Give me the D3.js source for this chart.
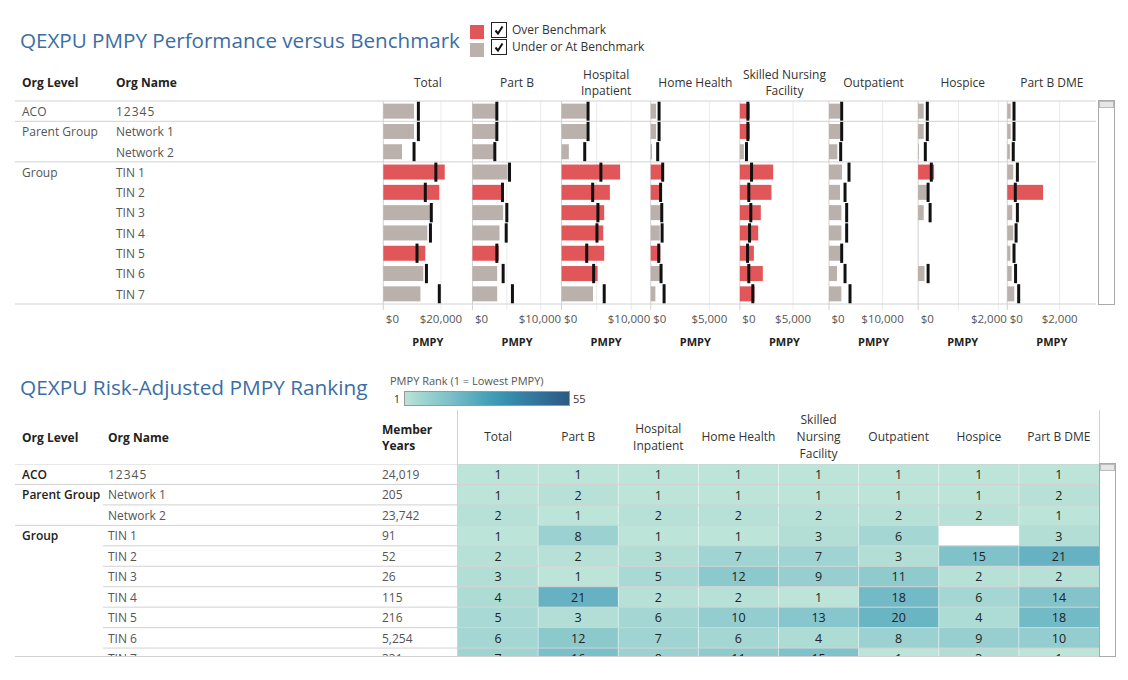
<!DOCTYPE html>
<html>
<head>
<meta charset="UTF-8">
<title>QEXPU PMPY</title>
<script src="https://d3js.org/d3.v7.min.js"></script>
<style>
	body { margin: 0; background: #fff; }
	svg text { font-family: "Open Sans", sans-serif; }
</style>
</head>
<body>
<div id="chart"></div>
<script>
	// ---- data ----
	const orgLevels = ["ACO", "Parent Group", "", "Group", "", "", "", "", "", ""];
	const orgNames = ["12345", "Network 1", "Network 2", "TIN 1", "TIN 2", "TIN 3", "TIN 4", "TIN 5", "TIN 6", "TIN 7"];
	const memberYears = ["24,019", "205", "23,742", "91", "52", "26", "115", "216", "5,254", "331"];
	const categories = ["Total", "Part B", "Hospital Inpatient", "Home Health", "Skilled Nursing Facility", "Outpatient", "Hospice", "Part B DME"];

	// PMPY and benchmark, one array per category (dollars)
	const pmpyTotal = [10760, 10760, 6550, 21500, 19600, 16400, 15400, 14700, 14000, 13000];
	const benchTotal = [12280, 12280, 10760, 18400, 14700, 16800, 16500, 11800, 15100, 19600];
	const pmpyPartB = [3500, 3500, 3150, 5200, 4580, 4530, 3990, 3890, 3650, 3650];
	const benchPartB = [3600, 3600, 3300, 5470, 4430, 5070, 4980, 3600, 4530, 5900];
	const pmpyInpatient = [3640, 3640, 1050, 8470, 6990, 6170, 6030, 6170, 5220, 4550];
	const benchInpatient = [3830, 3830, 3350, 5690, 4500, 5260, 5120, 3640, 4640, 6170];
	const pmpyHomeHealth = [460, 460, 110, 1100, 900, 920, 780, 830, 830, 400];
	const benchHomeHealth = [720, 720, 600, 1030, 850, 950, 980, 690, 890, 1150];
	const pmpySnf = [950, 950, 380, 3160, 3000, 1990, 1740, 1330, 2180, 1390];
	const benchSnf = [760, 760, 630, 1110, 850, 1040, 920, 730, 850, 1230];
	const pmpyOutpatient = [2080, 2200, 1570, 2450, 2080, 2330, 2330, 2140, 1510, 2330];
	const benchOutpatient = [2390, 2390, 2200, 3770, 3020, 3330, 3330, 2390, 3020, 3960];
	const pmpyHospice = [140, 140, 20, 400, 220, 140, null, null, 160, null];
	const benchHospice = [230, 230, 180, 330, 250, 300, null, null, 250, null];
	const pmpyDme = [130, 130, 100, 230, 1380, 190, 230, 120, 170, 270];
	const benchDme = [260, 260, 230, 390, 310, 390, 340, 260, 320, 440];

	// axis tick values per category
	const gridTicks = [[20000], [5000, 10000], [5000, 10000], [5000], [5000], [10000], [1000, 2000], [2000]];
	const labelTicks = [[0, 20000], [0, 10000], [0, 10000], [0, 5000], [0, 5000], [0, 10000], [0, 2000], [0, 2000]];
	const axisMax = [31200, 13150, 12900, 7670, 8460, 16800, 2236, 3440];

	// risk-adjusted ranks, one array per category
	const rankTotal = [1, 1, 2, 1, 2, 3, 4, 5, 6, 7];
	const rankPartB = [1, 2, 1, 8, 2, 1, 21, 3, 12, 16];
	const rankInpatient = [1, 1, 2, 1, 3, 5, 2, 6, 7, 8];
	const rankHomeHealth = [1, 1, 2, 1, 7, 12, 2, 10, 6, 11];
	const rankSnf = [1, 1, 2, 3, 7, 9, 1, 13, 4, 15];
	const rankOutpatient = [1, 1, 2, 6, 3, 11, 18, 20, 8, 1];
	const rankHospice = [1, 1, 2, null, 15, 2, 6, 4, 9, 3];
	const rankDme = [1, 2, 1, 3, 21, 2, 14, 18, 10, 1];
	const rankRange = [1, 55];

	const pmpy = [pmpyTotal, pmpyPartB, pmpyInpatient, pmpyHomeHealth, pmpySnf, pmpyOutpatient, pmpyHospice, pmpyDme];
	const bench = [benchTotal, benchPartB, benchInpatient, benchHomeHealth, benchSnf, benchOutpatient, benchHospice, benchDme];
	const ranks = [rankTotal, rankPartB, rankInpatient, rankHomeHealth, rankSnf, rankOutpatient, rankHospice, rankDme];

	const headerLinesTop = [["Total"], ["Part B"], ["Hospital", "Inpatient"], ["Home Health"], ["Skilled Nursing", "Facility"], ["Outpatient"], ["Hospice"], ["Part B DME"]];
	const headerLinesBottom = [["Total"], ["Part B"], ["Hospital", "Inpatient"], ["Home Health"], ["Skilled", "Nursing", "Facility"], ["Outpatient"], ["Hospice"], ["Part B DME"]];

	const blueTeal = ["#bce4d8", "#aedcd5", "#a1d5d2", "#95cecf", "#89c8cc", "#7ec1ca", "#72bac6", "#66b2c2", "#59acbe", "#4ba5ba",
		"#419eb6", "#3b96b2", "#358ead", "#3586a7", "#347ea1", "#32779b", "#316f96", "#2f6790", "#2d608a", "#2c5985"];

	const red = "#e15759", gray = "#bab0ac";
	const titleColor = "#3a6ea5";
	const lineColor = "#d2d2d2";

	let width = 1128;
	let height = 680;
	let svg = d3.select("#chart").append("svg")
		.attr("width", width)
		.attr("height", height);

	// ================= top: PMPY vs benchmark =================
	let topG = svg.append("g");

	topG.append("text")
		.attr("x", 20).attr("y", 48)
		.attr("font-size", 20.6).attr("fill", titleColor)
		.text("QEXPU PMPY Performance versus Benchmark");

	// legend
	let legendItems = [{ label: "Over Benchmark", color: red }, { label: "Under or At Benchmark", color: gray }];
	let lg = topG.append("g");
	lg.selectAll("rect.sw").data(legendItems).join("rect")
		.attr("class", "sw")
		.attr("x", 470).attr("y", (d, i) => 25 + i * 18)
		.attr("width", 14).attr("height", 14)
		.attr("fill", d => d.color);
	lg.selectAll("rect.box").data(legendItems).join("rect")
		.attr("class", "box")
		.attr("x", 491.5).attr("y", (d, i) => 22.5 + i * 17)
		.attr("width", 15).attr("height", 15)
		.attr("fill", "#fff").attr("stroke", "#222");
	lg.selectAll("path.chk").data(legendItems).join("path")
		.attr("class", "chk")
		.attr("d", (d, i) => {
			let bx = 491.5, by = 22.5 + i * 17;
			return `M${bx + 4},${by + 8} L${bx + 6.5},${by + 11} L${bx + 11},${by + 4}`;
		})
		.attr("fill", "none").attr("stroke", "#111").attr("stroke-width", 2);
	lg.selectAll("text").data(legendItems).join("text")
		.attr("x", 512).attr("y", (d, i) => 30 + i * 17)
		.attr("dy", "0.35em")
		.attr("font-size", 12).attr("fill", "#333")
		.text(d => d.label);

	// headers
	topG.append("text").attr("x", 22).attr("y", 83).attr("dy", "0.35em")
		.attr("font-size", 12).attr("font-weight", "bold").attr("fill", "#222").text("Org Level");
	topG.append("text").attr("x", 116).attr("y", 83).attr("dy", "0.35em")
		.attr("font-size", 12).attr("font-weight", "bold").attr("fill", "#222").text("Org Name");

	const colX0 = 383.3, colW = 89.14;
	const rowTop = 101, rowH = 20.3;
	const bottomY = rowTop + rowH * orgNames.length;

	let y = d3.scaleBand()
		.domain(d3.range(orgNames.length))
		.range([rowTop, bottomY]);

	// row labels
	topG.selectAll("text.lvl").data(orgLevels).join("text")
		.attr("class", "lvl")
		.attr("x", 22).attr("y", (d, i) => y(i) + rowH / 2).attr("dy", "0.4em")
		.attr("font-size", 12).attr("fill", "#555")
		.text(d => d);
	topG.selectAll("text.nm").data(orgNames).join("text")
		.attr("class", "nm")
		.attr("x", 116).attr("y", (d, i) => y(i) + rowH / 2).attr("dy", "0.4em")
		.attr("font-size", 12).attr("fill", "#555")
		.attr("letter-spacing", (d, i) => i === 0 ? 1 : 0)
		.text(d => d);

	categories.forEach((cat, c) => {
		let x0 = colX0 + c * colW;
		let x = d3.scaleLinear().domain([0, axisMax[c]]).range([x0, x0 + colW]);

		// header
		let lines = headerLinesTop[c];
		topG.append("g").selectAll("text").data(lines).join("text")
			.attr("x", x0 + colW / 2)
			.attr("y", (d, i) => 83 + (i - (lines.length - 1) / 2) * 16)
			.attr("dy", "0.35em")
			.attr("text-anchor", "middle")
			.attr("font-size", 12).attr("fill", "#333")
			.text(d => d);

		// gridlines
		let grid = topG.append("g")
			.attr("transform", `translate(0,${bottomY + 6})`)
			.call(d3.axisBottom(x).tickValues(gridTicks[c]).tickSize(-(bottomY + 6 - rowTop)).tickFormat(""));
		grid.select(".domain").remove();
		grid.selectAll(".tick line").attr("stroke", "#ebebeb");

		// column boundary
		topG.append("line")
			.attr("x1", x0).attr("x2", x0)
			.attr("y1", rowTop).attr("y2", bottomY + 6)
			.attr("stroke", lineColor);

		let rows = pmpy[c].map((v, i) => ({ v: v, b: bench[c][i], i: i })).filter(d => d.v != null);

		topG.append("g").selectAll("rect").data(rows).join("rect")
			.attr("x", x0)
			.attr("y", d => y(d.i) + (rowH - 15) / 2)
			.attr("width", d => x(d.v) - x0)
			.attr("height", 15)
			.attr("fill", d => d.v > d.b ? red : gray);

		topG.append("g").selectAll("rect").data(rows).join("rect")
			.attr("x", d => x(d.b) - 1.5)
			.attr("y", d => y(d.i) + 0.5)
			.attr("width", 3)
			.attr("height", rowH - 1)
			.attr("fill", "#111");

		// axis labels
		let ax = topG.append("g")
			.attr("transform", `translate(0,${bottomY})`)
			.call(d3.axisBottom(x).tickValues(labelTicks[c]).tickSize(0).tickFormat(d3.format("$,")));
		ax.attr("font-family", null).attr("font-size", 11.5);
		ax.select(".domain").remove();
		ax.selectAll(".tick text")
			.attr("y", 15).attr("dy", "0.35em")
			.attr("fill", "#555")
			.each(function (d) {
				let w = this.getComputedTextLength();
				let cx = x(d);
				let left = Math.max(x0 + 2, Math.min(cx - w / 2, x0 + colW - w - 1));
				d3.select(this).attr("x", left + w / 2 - cx);
			});

		topG.append("text")
			.attr("x", x0 + colW / 2).attr("y", 342).attr("dy", "0.35em")
			.attr("text-anchor", "middle")
			.attr("font-size", 11).attr("font-weight", "bold").attr("fill", "#222")
			.text("PMPY");
	});

	// row separators (group boundaries)
	let topLines = [0, 1, 3, orgNames.length];
	topG.selectAll("line.sep").data(topLines).join("line")
		.attr("class", "sep")
		.attr("x1", 15).attr("x2", 1096)
		.attr("y1", d => (d === orgNames.length ? bottomY : y(d)))
		.attr("y2", d => (d === orgNames.length ? bottomY : y(d)))
		.attr("stroke", lineColor);

	// scrollbar
	topG.append("rect").attr("x", 1098.5).attr("y", 100.5).attr("width", 16).attr("height", bottomY - 100)
		.attr("fill", "#fff").attr("stroke", "#aaa");
	topG.append("rect").attr("x", 1099.5).attr("y", 101.5).attr("width", 14).attr("height", 6)
		.attr("fill", "#e6e6e6").attr("stroke", "#bbb");

	// ================= bottom: ranking heatmap =================
	let bot = svg.append("g");

	bot.append("text")
		.attr("x", 20).attr("y", 395)
		.attr("font-size", 20.8).attr("fill", titleColor)
		.text("QEXPU Risk-Adjusted PMPY Ranking");

	let colorStops = blueTeal.map((_, i) => rankRange[0] + (rankRange[1] - rankRange[0]) * i / (blueTeal.length - 1));
	let color = d3.scaleLinear().domain(colorStops).range(blueTeal);

	// gradient legend
	let defs = svg.append("defs");
	let grad = defs.append("linearGradient").attr("id", "rankGrad");
	grad.selectAll("stop").data(colorStops).join("stop")
		.attr("offset", d => (d - rankRange[0]) / (rankRange[1] - rankRange[0]))
		.attr("stop-color", d => color(d));
	bot.append("text").attr("x", 390).attr("y", 381).attr("dy", "0.35em")
		.attr("font-size", 11).attr("fill", "#555").text("PMPY Rank (1 = Lowest PMPY)");
	bot.append("rect").attr("x", 404.5).attr("y", 391.5).attr("width", 165).attr("height", 14)
		.attr("fill", "url(#rankGrad)").attr("stroke", "#999");
	bot.append("text").attr("x", 400).attr("y", 399).attr("dy", "0.35em").attr("text-anchor", "end")
		.attr("font-size", 11).attr("fill", "#333").text(rankRange[0]);
	bot.append("text").attr("x", 573).attr("y", 399).attr("dy", "0.35em")
		.attr("font-size", 11).attr("fill", "#333").text(rankRange[1]);

	// headers
	bot.append("text").attr("x", 22).attr("y", 438).attr("dy", "0.35em")
		.attr("font-size", 12).attr("font-weight", "bold").attr("fill", "#222").text("Org Level");
	bot.append("text").attr("x", 108).attr("y", 438).attr("dy", "0.35em")
		.attr("font-size", 12).attr("font-weight", "bold").attr("fill", "#222").text("Org Name");
	bot.append("g").selectAll("text").data(["Member", "Years"]).join("text")
		.attr("x", 382).attr("y", (d, i) => 430 + i * 16).attr("dy", "0.35em")
		.attr("font-size", 12).attr("font-weight", "bold").attr("fill", "#222").text(d => d);

	const hTop = 464, hRowH = 20.45, clipBottom = 657;
	let hx = d3.scaleBand().domain(categories).range([458, 1099]);
	let hy = d3.scaleBand().domain(d3.range(orgNames.length)).range([hTop, hTop + hRowH * orgNames.length]);

	categories.forEach((cat, c) => {
		let lines = headerLinesBottom[c];
		bot.append("g").selectAll("text").data(lines).join("text")
			.attr("x", hx(cat) + hx.bandwidth() / 2)
			.attr("y", (d, i) => 437 + (i - (lines.length - 1) / 2) * 17)
			.attr("dy", "0.35em")
			.attr("text-anchor", "middle")
			.attr("font-size", 12).attr("fill", "#333")
			.text(d => d);
	});

	defs.append("clipPath").attr("id", "tableClip")
		.append("rect").attr("x", 0).attr("y", hTop).attr("width", 1099).attr("height", clipBottom - hTop);

	let body = bot.append("g").attr("clip-path", "url(#tableClip)");

	body.selectAll("text.lvl").data(orgLevels).join("text")
		.attr("class", "lvl")
		.attr("x", 22).attr("y", (d, i) => hy(i) + hRowH / 2).attr("dy", "0.4em")
		.attr("font-size", 12).attr("font-weight", 600).attr("fill", "#222")
		.text(d => d);
	body.selectAll("text.nm").data(orgNames).join("text")
		.attr("class", "nm")
		.attr("x", 108).attr("y", (d, i) => hy(i) + hRowH / 2).attr("dy", "0.4em")
		.attr("font-size", 12).attr("fill", "#555")
		.attr("letter-spacing", (d, i) => i === 0 ? 1 : 0)
		.text(d => d);
	body.selectAll("text.my").data(memberYears).join("text")
		.attr("class", "my")
		.attr("x", 382).attr("y", (d, i) => hy(i) + hRowH / 2).attr("dy", "0.4em")
		.attr("font-size", 12).attr("fill", "#555")
		.text(d => d);

	let cells = [];
	categories.forEach((cat, c) => {
		ranks[c].forEach((r, i) => cells.push({ cat: cat, i: i, r: r }));
	});
	body.append("g").selectAll("rect").data(cells.filter(d => d.r != null)).join("rect")
		.attr("x", d => hx(d.cat))
		.attr("y", d => hy(d.i))
		.attr("width", hx.bandwidth())
		.attr("height", hy.bandwidth())
		.attr("fill", d => color(d.r));
	// faint column separators between cells
	body.selectAll("line.cs").data(categories.slice(1)).join("line")
		.attr("class", "cs")
		.attr("x1", d => hx(d)).attr("x2", d => hx(d))
		.attr("y1", hTop).attr("y2", clipBottom)
		.attr("stroke", "#fff").attr("stroke-opacity", 0.45);
	body.append("g").selectAll("text").data(cells.filter(d => d.r != null)).join("text")
		.attr("x", d => hx(d.cat) + hx.bandwidth() / 2)
		.attr("y", d => hy(d.i) + hRowH / 2).attr("dy", "0.4em")
		.attr("text-anchor", "middle")
		.attr("font-size", 12.5).attr("fill", "#222")
		.text(d => d.r);

	// row lines: full width at group boundaries, from org name column otherwise
	let rowLines = d3.range(orgNames.length + 1).map(i => ({
		y: i < orgNames.length ? hy(i) : clipBottom,
		full: i === 0 || i === orgNames.length || orgLevels[i] !== ""
	}));
	body.selectAll("line.rl").data(rowLines).join("line")
		.attr("class", "rl")
		.attr("x1", d => d.full ? 15 : 103).attr("x2", 1099)
		.attr("y1", d => Math.min(d.y, clipBottom - 0.5)).attr("y2", d => Math.min(d.y, clipBottom - 0.5))
		.attr("stroke", lineColor);

	bot.append("line").attr("x1", 457.5).attr("x2", 457.5).attr("y1", 410).attr("y2", clipBottom)
		.attr("stroke", lineColor);
	bot.append("line").attr("x1", 1099.5).attr("x2", 1099.5).attr("y1", 410).attr("y2", hTop)
		.attr("stroke", lineColor);

	bot.append("rect").attr("x", 1099.5).attr("y", hTop - 0.5).attr("width", 16).attr("height", clipBottom - hTop)
		.attr("fill", "#fff").attr("stroke", "#aaa");
	bot.append("rect").attr("x", 1100.5).attr("y", hTop + 0.5).attr("width", 14).attr("height", 6)
		.attr("fill", "#e6e6e6").attr("stroke", "#bbb");
</script>
</body>
</html>
